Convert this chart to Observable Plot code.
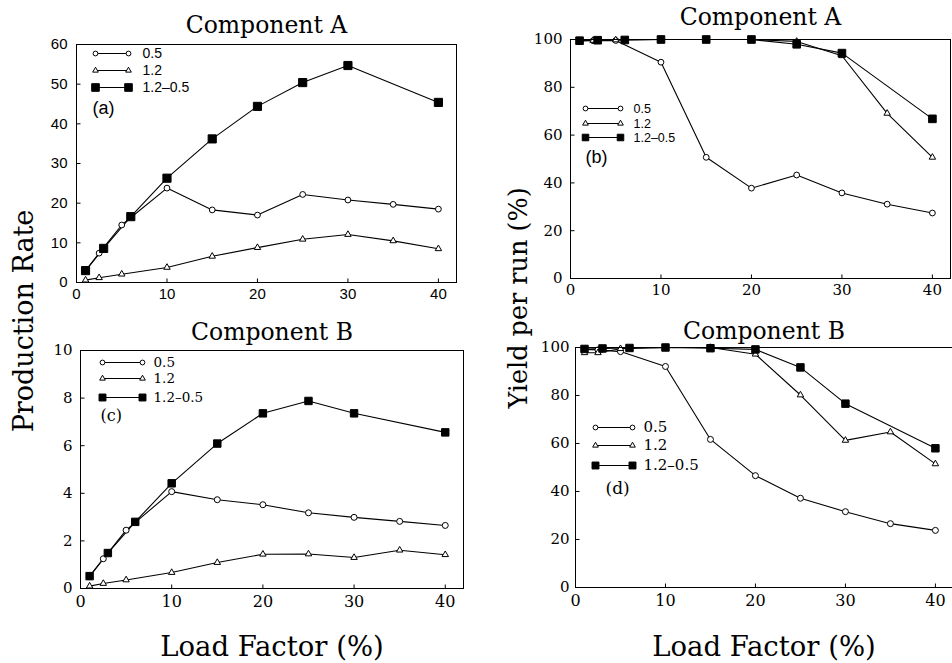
<!DOCTYPE html>
<html><head><meta charset="utf-8">
<script src="https://cdn.jsdelivr.net/npm/d3@7"></script>
<script src="https://cdn.jsdelivr.net/npm/@observablehq/plot@0.6"></script>
<style>
body{margin:0;background:#fff;}
#wrap{position:relative;width:952px;height:663px;overflow:hidden;background:#fff;}
.p{position:absolute;}
.lab{position:absolute;font-family:"DejaVu Serif";color:#000;white-space:nowrap;line-height:1;}
</style></head><body><div id="wrap"></div>
<script>
// ---- data ----
const lfSquare = [1, 3, 6, 10, 15, 20, 25, 30, 40];
const lfOpen = [1, 2.5, 5, 10, 15, 20, 25, 30, 35, 40];
const seriesLabels = ["0.5", "1.2", "1.2\u20130.5"];
const xTicks = [0, 10, 20, 30, 40];
const rateTicksA = [0, 10, 20, 30, 40, 50, 60];
const rateTicksB = [0, 2, 4, 6, 8, 10];
const yieldTicks = [0, 20, 40, 60, 80, 100];
const panelTitles = ["Component A", "Component A", "Component B", "Component B"];
const panelTags = ["(a)", "(b)", "(c)", "(d)"];

// (a) production rate, component A
const a05 = [3, 7.4, 14.5, 23.8, 18.3, 17.0, 22.2, 20.8, 19.7, 18.5];
const a12 = [0.6, 1.2, 2.1, 3.8, 6.6, 8.8, 10.9, 12.1, 10.5, 8.5];
const a1205 = [3.0, 8.6, 16.6, 26.3, 36.2, 44.4, 50.4, 54.7, 45.4];
// (b) yield per run, component A
const b05 = [99.5, 99.5, 99.6, 90.5, 50.7, 37.8, 43.3, 35.8, 31.1, 27.4];
const b12 = [99.5, 99.6, 99.8, 100, 100, 100, 99.2, 93.2, 69.1, 50.7];
const b1205 = [99.5, 99.7, 99.8, 100, 100, 100, 98.0, 94.3, 66.8];
// (c) production rate, component B
const c05 = [0.5, 1.25, 2.45, 4.07, 3.73, 3.52, 3.18, 2.99, 2.82, 2.65];
const c12 = [0.1, 0.21, 0.36, 0.67, 1.09, 1.44, 1.45, 1.3, 1.61, 1.42];
const c1205 = [0.52, 1.49, 2.8, 4.42, 6.09, 7.36, 7.88, 7.36, 6.56];
// (d) yield per run, component B
const d05 = [99.2, 99.0, 98.3, 92.1, 61.7, 46.6, 37.2, 31.6, 26.6, 23.8];
const d12 = [97.8, 97.8, 99.5, 100, 100, 97.2, 80.2, 61.3, 64.8, 51.5];
const d1205 = [99.4, 99.6, 99.8, 100, 99.7, 99.2, 91.7, 76.6, 58.0];

// ---- helpers ----
const hSeg = len => ({draw(c) { c.moveTo(-len / 2, 0); c.lineTo(len / 2, 0); }});
const vTick = {draw(c) { c.moveTo(0, 0); c.lineTo(0, -4); }};
const hTick = {draw(c) { c.moveTo(0, 0); c.lineTo(4, 0); }};

function seriesRows(xs, ys) { return xs.map((x, i) => ({x, y: ys[i]})); }

const wrap = document.getElementById("wrap");

function panel(cfg) {
  const series = [
    {rows: seriesRows(lfOpen, cfg.s05), symbol: "circle", fill: "white", r: cfg.rc},
    {rows: seriesRows(lfOpen, cfg.s12), symbol: "triangle", fill: "white", r: cfg.rt},
    {rows: seriesRows(lfSquare, cfg.s1205), symbol: "square", fill: "black", r: cfg.rs}
  ];
  const marks = [];
  for (const s of series) marks.push(Plot.line(s.rows, {x: "x", y: "y", stroke: "black", strokeWidth: 1.1}));
  for (const s of series) marks.push(Plot.dot(s.rows, {x: "x", y: "y", symbol: s.symbol, fill: s.fill, stroke: "black", strokeWidth: 1, r: s.r}));
  // legend
  const L = cfg.leg;
  seriesLabels.forEach((lab, i) => {
    const s = series[i];
    const dy = L.rows[i];
    marks.push(Plot.dot([lab], {frameAnchor: "top-left", dx: (L.x1 + L.x2) / 2, dy, symbol: hSeg(L.x2 - L.x1), stroke: "black", strokeWidth: 1}));
    marks.push(Plot.dot([lab], {frameAnchor: "top-left", dx: L.x1, dy, symbol: s.symbol, fill: s.fill, stroke: "black", strokeWidth: 1, r: L.r[i]}));
    marks.push(Plot.dot([lab], {frameAnchor: "top-left", dx: L.x2, dy, symbol: s.symbol, fill: s.fill, stroke: "black", strokeWidth: 1, r: L.r[i]}));
    marks.push(Plot.text([lab], {text: d => d, frameAnchor: "top-left", dx: L.tx, dy, textAnchor: "start", lineAnchor: "middle", fontSize: L.fs, fontFamily: L.font, fill: "black"}));
  });
  marks.push(Plot.text([cfg.tag], {text: d => d, frameAnchor: "top-left", dx: L.tagx, dy: L.tagy, textAnchor: "start", lineAnchor: "middle", fontSize: L.tagfs, fontFamily: L.font, fill: "black"}));
  // title
  marks.push(Plot.text([cfg.title], {text: d => d, frameAnchor: "top", dy: cfg.titleDy, lineAnchor: "middle", fontSize: 23.5, fontFamily: "DejaVu Serif", fill: "black"}));
  // inward ticks
  marks.push(Plot.dot(xTicks, {x: d => d, frameAnchor: "bottom", symbol: vTick, stroke: "black", strokeWidth: 1}));
  marks.push(Plot.dot(cfg.yticks, {y: d => d, frameAnchor: "left", symbol: hTick, stroke: "black", strokeWidth: 1}));
  // axes
  marks.push(Plot.axisX(xTicks, {tickSize: 0, tickPadding: cfg.xpad, fontSize: cfg.xfs, fontFamily: cfg.tickFont, label: null, fill: "black"}));
  marks.push(Plot.axisY(cfg.yticks, {tickSize: 0, tickPadding: cfg.ypad, fontSize: cfg.yfs, fontFamily: cfg.tickFont, label: null, fill: "black"}));
  marks.push(Plot.frame({stroke: "black", strokeWidth: 1}));

  const chart = Plot.plot({
    width: cfg.w, height: cfg.h,
    marginLeft: cfg.ml, marginRight: cfg.mr, marginTop: cfg.mt, marginBottom: cfg.mb,
    x: {domain: [0, cfg.xmax]},
    y: {domain: [0, cfg.ymax]},
    style: {background: "transparent", color: "black", overflow: "visible"},
    marks
  });
  chart.classList.add("p");
  chart.style.left = cfg.left + "px";
  chart.style.top = cfg.top + "px";
  wrap.appendChild(chart);
}

panel({left: 0, top: 0, w: 470, h: 310, ml: 76, mr: 14, mt: 44, mb: 28, xmax: 42, ymax: 60,
  yticks: rateTicksA, s05: a05, s12: a12, s1205: a1205, rc: 2.9, rt: 2.4, rs: 4.6,
  title: panelTitles[0], tag: panelTags[0], titleDy: -19,
  tickFont: "Liberation Sans", xfs: 15, yfs: 15, xpad: 6, ypad: 9,
  leg: {x1: 19, x2: 52, tx: 66, rows: [9, 26, 43], r: [2.4, 2.1, 4.3], fs: 14, font: "Liberation Sans", tagx: 16, tagy: 64, tagfs: 18}});

panel({left: 470, top: 0, w: 482, h: 310, ml: 100, mr: 2, mt: 39, mb: 32, xmax: 42, ymax: 100,
  yticks: yieldTicks, s05: b05, s12: b12, s1205: b1205, rc: 2.9, rt: 2.4, rs: 4.3,
  title: panelTitles[1], tag: panelTags[1], titleDy: -22,
  tickFont: "DejaVu Serif", xfs: 15, yfs: 15, xpad: 6, ypad: 8,
  leg: {x1: 15, x2: 50, tx: 63, rows: [69, 84, 98], r: [2.4, 2.1, 3.7], fs: 12.5, font: "Liberation Sans", tagx: 15, tagy: 118, tagfs: 18}});

panel({left: 0, top: 300, w: 470, h: 363, ml: 80, mr: 7, mt: 50, mb: 75, xmax: 42, ymax: 10,
  yticks: rateTicksB, s05: c05, s12: c12, s1205: c1205, rc: 3.0, rt: 2.4, rs: 4.2,
  title: panelTitles[2], tag: panelTags[2], titleDy: -18,
  tickFont: "DejaVu Serif", xfs: 16, yfs: 15, xpad: 7, ypad: 8,
  leg: {x1: 22, x2: 62, tx: 73, rows: [12, 28, 47], r: [2.4, 2.1, 3.9], fs: 13.5, font: "DejaVu Serif", tagx: 20, tagy: 65, tagfs: 16}});

panel({left: 470, top: 300, w: 482, h: 363, ml: 105, mr: 0, mt: 47, mb: 76, xmax: 41.9, ymax: 100,
  yticks: yieldTicks, s05: d05, s12: d12, s1205: d1205, rc: 3.0, rt: 2.4, rs: 4.2,
  title: panelTitles[3], tag: panelTags[3], titleDy: -16,
  tickFont: "DejaVu Serif", xfs: 16, yfs: 15, xpad: 7, ypad: 6,
  leg: {x1: 20, x2: 57, tx: 68, rows: [80, 98, 118], r: [2.4, 2.1, 3.9], fs: 15, font: "DejaVu Serif", tagx: 30, tagy: 141, tagfs: 17}});

// shared axis labels
function label(text, cx, cy, size, rotate) {
  const d = document.createElement("div");
  d.className = "lab";
  d.textContent = text;
  d.style.fontSize = size + "px";
  d.style.left = cx + "px";
  d.style.top = cy + "px";
  d.style.transform = "translate(-50%,-50%)" + (rotate ? " rotate(-90deg)" : "");
  wrap.appendChild(d);
}
label("Production Rate", 23, 321, 27, true);
label("Yield per run (%)", 519, 298, 25.5, true);
label("Load Factor (%)", 272, 647, 27.5, false);
label("Load Factor (%)", 764, 647, 27.5, false);
</script></body></html>
